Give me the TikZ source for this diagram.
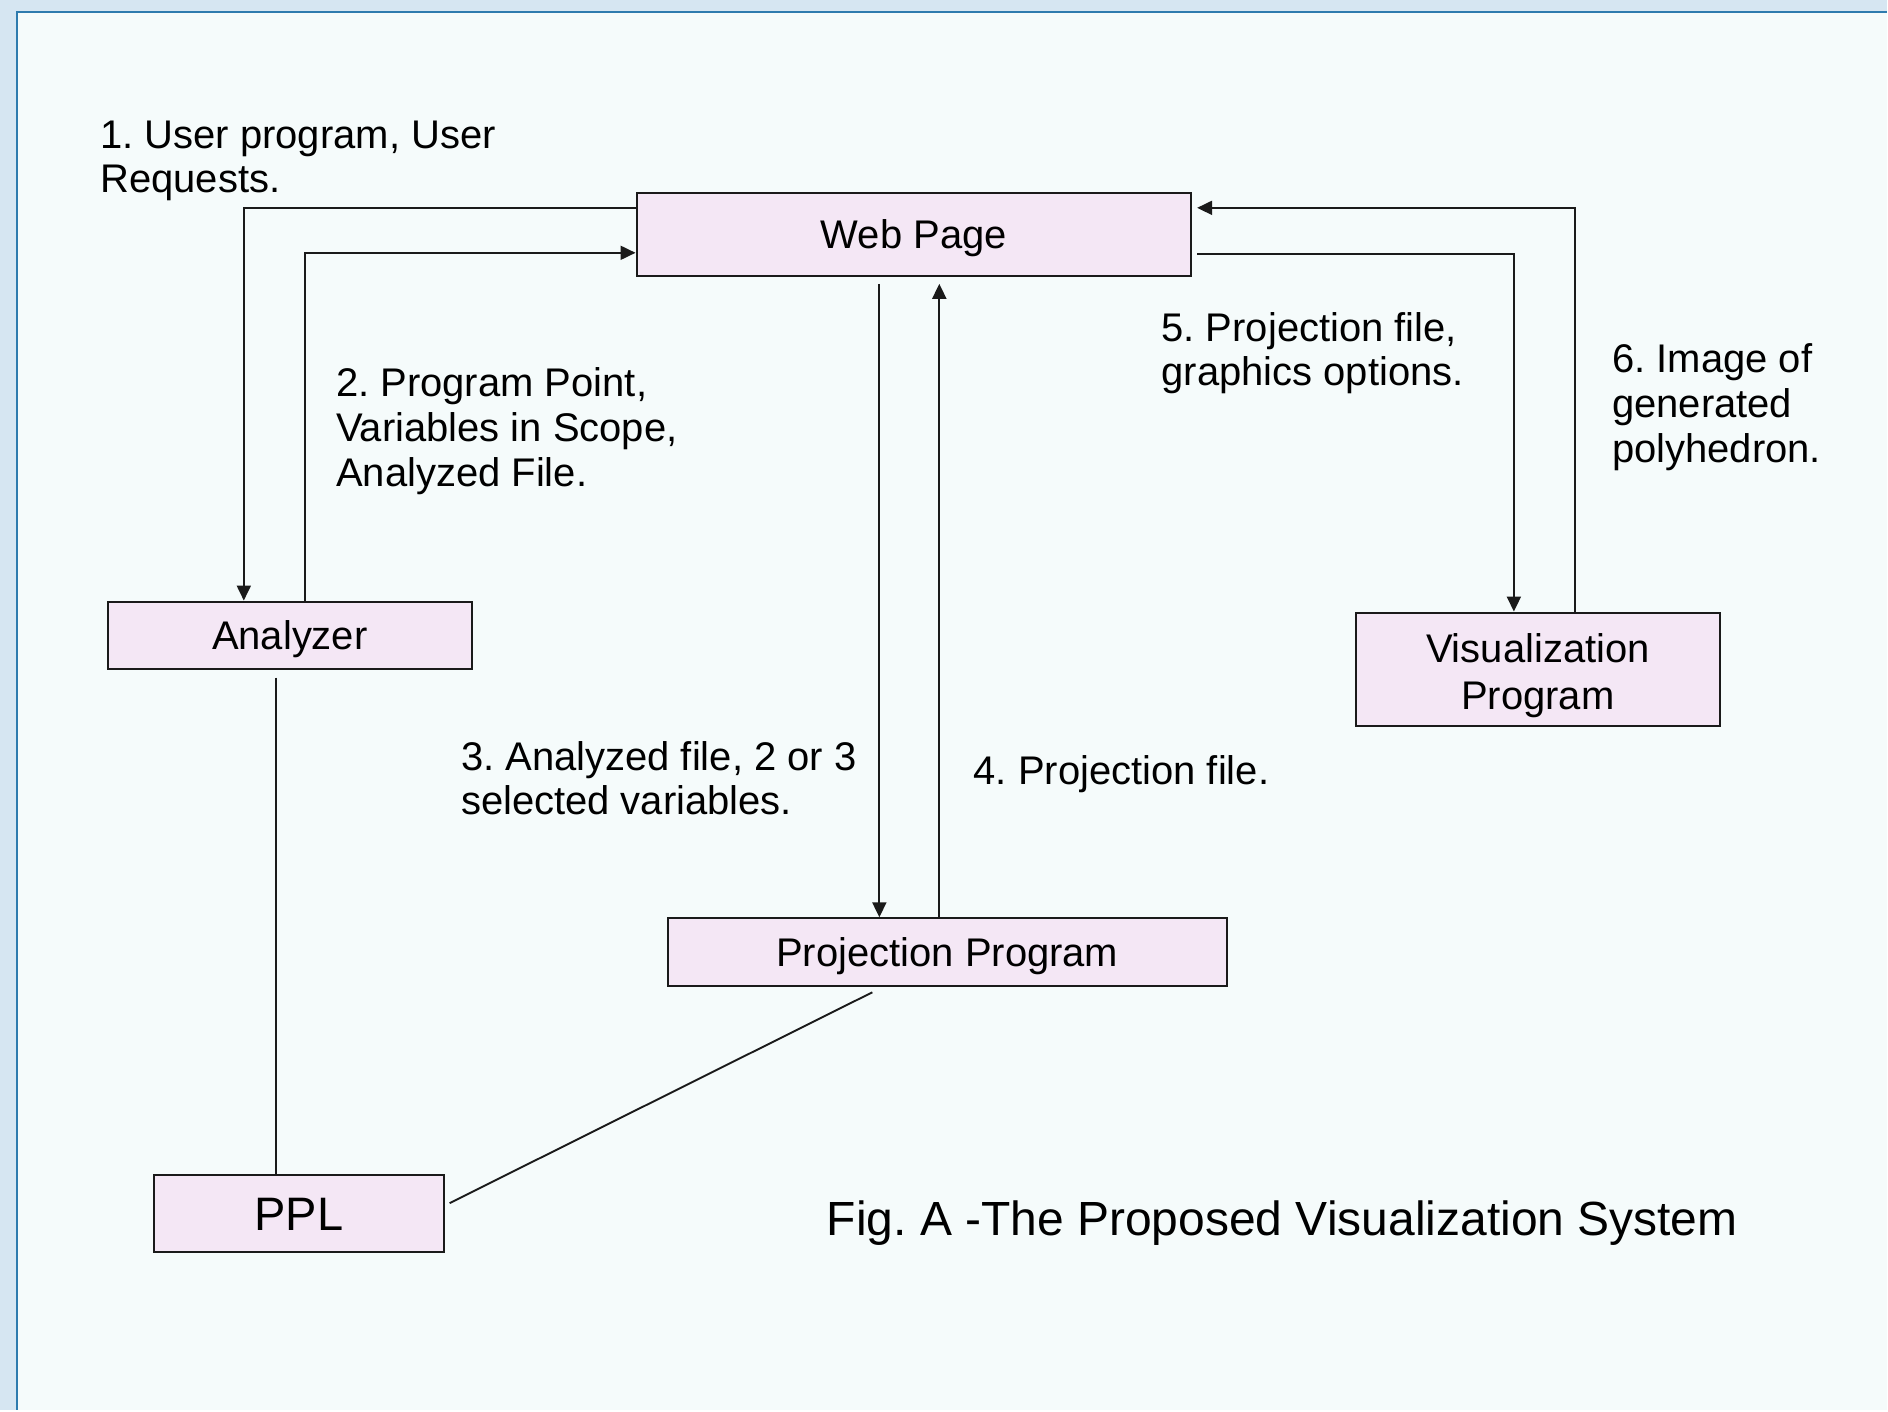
\documentclass[tikz,border=0pt]{standalone}
\usepackage{fontspec}
\setmainfont{Liberation Sans}
\usetikzlibrary{arrows.meta}
\frenchspacing
\definecolor{bgblue}{HTML}{D6E6F2}
\definecolor{panel}{HTML}{F5FBFB}
\definecolor{edgeblue}{HTML}{2E7BAE}
\definecolor{boxfill}{HTML}{F4E7F5}
\definecolor{ink}{HTML}{1A1A1A}
\begin{document}
\frenchspacing
\begin{tikzpicture}[x=0.5pt,y=-0.5pt,
  box/.style={draw=ink, fill=boxfill, line width=1pt, inner sep=0pt,
    font=\frenchspacing\fontsize{20}{22}\selectfont, text=black, text height=14.3pt, text depth=0pt},
  lab/.style={anchor=base west, inner sep=0pt, text=black, font=\frenchspacing\fontsize{20}{22}\selectfont},
  conn/.style={draw=ink, line width=0.95pt},
  arr/.style={conn, -{Triangle[length=7.5pt,width=7pt]}}]
% background and panel
\fill[bgblue] (0,0) rectangle (1888,1411);
\fill[panel] (17,12) rectangle (1888,1411);
\draw[edgeblue, line width=1.4pt] (17,1411) -- (17,12) -- (1888,12);
\useasboundingbox (0,0) rectangle (1888,1411);
% boxes
\node[box, minimum width=277.5pt, minimum height=41.5pt] (web) at (914.5,234.5) {Web Page};
\node[box, minimum width=182pt, minimum height=33.5pt] (an) at (290,635.5) {Analyzer};
\node[box, minimum width=280pt, minimum height=34pt] (pp) at (948,953) {Projection Program};
\node[box, minimum width=182pt, minimum height=57pt, text height=14.3pt, text depth=21.3pt,
  font=\fontsize{20}{23.5}\selectfont] (vis) at (1539,670)
  {\begin{tabular}[t]{@{}c@{}}Visualization\\Program\end{tabular}};
\node[box, minimum width=145pt, minimum height=38.5pt, text height=16.8pt,
  font=\fontsize{23.5}{26}\selectfont] (ppl) at (299,1214.5) {PPL};
% connector bends
\coordinate (p1) at (244,208);
\coordinate (p2) at (305,253);
\coordinate (p5) at (1515,254);
\coordinate (p6) at (1576,208);
\coordinate (d3) at (880,284);
\coordinate (u4) at (940,284);
\coordinate (e5) at (1198,254);
\coordinate (e6) at (1198,208);
\coordinate (a0) at (276,678);
\coordinate (q0) at (873,993);
\coordinate (q1) at (450,1204);
% connectors
\draw[arr] (p1 -| web.west) -- (p1) -- (p1 |- an.north);
\draw[arr] (p2 |- an.north) -- (p2) -- (p2 -| web.west);
\draw[arr] (d3) -- (d3 |- pp.north);
\draw[arr] (u4 |- pp.north) -- (u4);
\draw[arr] (e5) -- (p5) -- (p5 |- vis.north);
\draw[arr] (p6 |- vis.north) -- (p6) -- (e6);
\draw[conn] (a0) -- (a0 |- ppl.north);
\draw[conn] (q0) -- (q1);
% labels
\node[lab, font=\frenchspacing\fontsize{20}{21.6}\selectfont] (l1) at (100,149)
  {\begin{tabular}[t]{@{}l@{}}1. User program, User\\Requests.\end{tabular}};
\node[lab, font=\frenchspacing\fontsize{20}{22.4}\selectfont] (l2) at (336,397)
  {\begin{tabular}[t]{@{}l@{}}2. Program Point,\\Variables in Scope,\\Analyzed File.\end{tabular}};
\node[lab] (l3) at (461,771)
  {\begin{tabular}[t]{@{}l@{}}3. Analyzed file, 2 or 3\\selected variables.\end{tabular}};
\node[lab] (l4) at (974,785) {4. Projection file.};
\node[lab] (l5) at (1162,342)
  {\begin{tabular}[t]{@{}l@{}}5. Projection file,\\graphics options.\end{tabular}};
\node[lab, font=\frenchspacing\fontsize{20}{22.4}\selectfont] (l6) at (1613,373)
  {\begin{tabular}[t]{@{}l@{}}6. Image of\\generated\\polyhedron.\end{tabular}};
\node[lab, font=\frenchspacing\fontsize{24}{28}\selectfont] (cap) at (827,1236) {Fig. A -The Proposed Visualization System};
\end{tikzpicture}
\end{document}
